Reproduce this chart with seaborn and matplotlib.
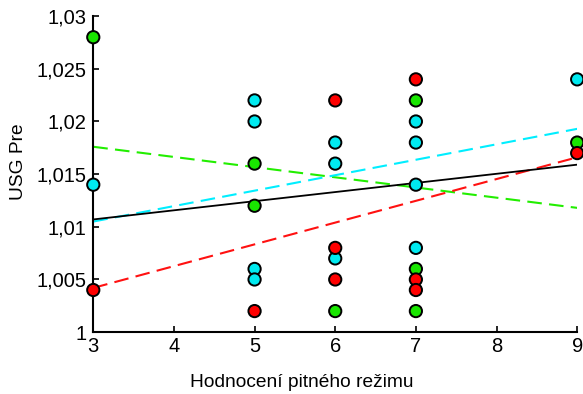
import pandas as pd
import numpy as np
import matplotlib.pyplot as plt
import seaborn as sns
from matplotlib.ticker import FuncFormatter

# points, one list per colour group
green_x = [3, 5, 5, 6, 7, 7, 7, 9]
green_y = [1.028, 1.016, 1.012, 1.002, 1.022, 1.006, 1.002, 1.018]
cyan_x = [3, 5, 5, 5, 5, 6, 6, 6, 7, 7, 7, 7, 9]
cyan_y = [1.014, 1.022, 1.020, 1.006, 1.005, 1.018, 1.016, 1.007,
          1.020, 1.018, 1.014, 1.008, 1.024]
red_x = [3, 5, 6, 6, 6, 7, 7, 7, 9]
red_y = [1.004, 1.002, 1.022, 1.008, 1.005, 1.024, 1.005, 1.004, 1.017]

# fitted lines (value at x=3 and x=9)
fit_x = [3, 9]
fit_green = [1.0176, 1.0118]
fit_cyan = [1.0105, 1.0193]
fit_red = [1.0042, 1.0166]
fit_all = [1.0107, 1.0159]

colors = {'green': '#19e600', 'cyan': '#00eaf0', 'red': '#ff0000'}

pts = pd.concat([
    pd.DataFrame({'x': green_x, 'y': green_y, 'g': 'green'}),
    pd.DataFrame({'x': cyan_x, 'y': cyan_y, 'g': 'cyan'}),
    pd.DataFrame({'x': red_x, 'y': red_y, 'g': 'red'}),
])

sns.set_style('ticks')
plt.rcParams['font.family'] = ['Liberation Sans', 'DejaVu Sans']

fig = plt.figure(figsize=(5.83, 3.94), dpi=100)
ax = fig.add_axes([0.16, 0.157, 0.83, 0.802])

# regression lines
dash = (0, (7, 3.5))
sns.lineplot(x=fit_x, y=fit_green, ax=ax, color='#22ee00', lw=1.5, linestyle=dash)
sns.lineplot(x=fit_x, y=fit_cyan, ax=ax, color='#00eeff', lw=1.5, linestyle=dash)
sns.lineplot(x=fit_x, y=fit_red, ax=ax, color='#ff1111', lw=1.5, linestyle=dash)
sns.lineplot(x=fit_x, y=fit_all, ax=ax, color='black', lw=1.3)

sns.scatterplot(data=pts, x='x', y='y', hue='g', palette=colors, ax=ax,
                s=78, edgecolor='black', linewidth=1.4, legend=False,
                clip_on=False, zorder=5)

ax.set_xlim(3, 9)
ax.set_ylim(1, 1.03)
ax.set_xticks(range(3, 10))
ax.set_yticks([1, 1.005, 1.01, 1.015, 1.02, 1.025, 1.03])
ax.yaxis.set_major_formatter(FuncFormatter(lambda v, p: ('%g' % round(v, 3)).replace('.', ',')))
ax.tick_params(direction='in', length=4, width=1.2, labelsize=14.5, colors='black')
ax.tick_params(axis='y', pad=5)
ax.tick_params(axis='x', pad=3.5)
for side in ['top', 'right']:
    ax.spines[side].set_visible(False)
for side in ['left', 'bottom']:
    ax.spines[side].set_linewidth(1.5)
    ax.spines[side].set_color('black')

ax.set_xlabel('Hodnocení pitného režimu', fontsize=13.8, va='center', color='black')
ax.set_ylabel('USG Pre', fontsize=13.8, va='center', color='black')
ax.xaxis.set_label_coords(0.43, -0.158)
ax.yaxis.set_label_coords(-0.155, 0.541)

fig.savefig('out.png', dpi=100)
